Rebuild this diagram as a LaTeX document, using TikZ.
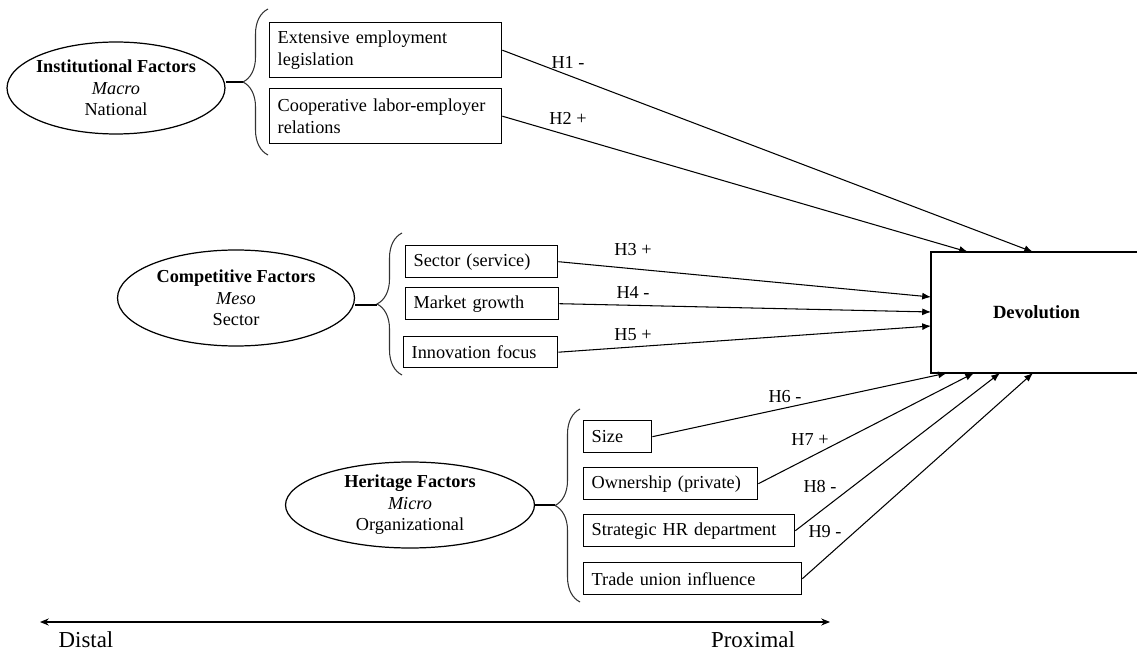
\documentclass[tikz,border=0pt]{standalone}
\usepackage{fontspec}
\setmainfont{Liberation Serif}
\usetikzlibrary{shapes.geometric, decorations.pathreplacing, arrows.meta}

\begin{document}
\begin{tikzpicture}[x=0.02cm, y=-0.02cm,
	every node/.style={font=\fontsize{10.4}{12.2}\selectfont},
	factor/.style={draw, line width=0.8pt, anchor=north west, align=left, inner xsep=0.16cm, inner ysep=0pt},
	level/.style={ellipse, draw, line width=0.7pt, align=center, inner xsep=-0.15cm, inner ysep=-0.1cm},
	grp/.style={decorate, decoration={brace, amplitude=0.5cm}, line width=0.6pt, draw=black!80},
	hyp/.style={draw, line width=0.6pt, -{Latex[length=5pt, width=4pt]}},
	lbl/.style={inner sep=0pt}]
				\useasboundingbox (0,0) rectangle (1137,655);
				
				% levels
				\node[level, minimum width=4.36cm, minimum height=1.84cm] (inst) at (116,88){\textbf{Institutional Factors}\\\textit{Macro}\\National};
				\node[level, minimum width=4.74cm, minimum height=1.92cm] (comp) at (236,298){\textbf{Competitive Factors}\\\textit{Meso}\\Sector};
				\node[level, minimum width=4.98cm, minimum height=1.72cm] (herit) at (410,505){\textbf{Heritage Factors}\\\textit{Micro}\\Organizational};
				
				% braces
				\draw[grp] (268,155) -- (268,9);
				\draw[grp] (402,375) -- (402,233);
				\draw[grp] (580,602) -- (580,409);
				\coordinate (tip1) at (243,82);
				\coordinate (tip2) at (377,305);
				\coordinate (tip3) at (555,505);
				\path (tip1 -| inst.east) edge[draw, line width=0.6pt] (tip1);
				\path (tip2 -| comp.east) edge[draw, line width=0.6pt] (tip2);
				\path (tip3 -| herit.east) edge[draw, line width=0.6pt] (tip3);
				
				% factors
				\node[factor, text width=4.32cm, minimum height=1.1cm] (ext) at (269,22){Extensive employment\\legislation};
				\node[factor, text width=4.32cm, minimum height=1.1cm] (coop) at (269,88){\mbox{Cooperative labor-employer}\\relations};
				\node[factor, text width=2.72cm, minimum height=0.64cm] (sect) at (405,245){Sector (service)};
				\node[factor, text width=2.74cm, minimum height=0.64cm] (mkt) at (405,287){Market growth};
				\node[factor, text width=2.76cm, minimum height=0.62cm] (innov) at (403,336){Innovation focus};
				\node[factor, text width=1.04cm, minimum height=0.64cm] (size) at (583,420){Size};
				\node[factor, text width=3.16cm, minimum height=0.64cm] (own) at (583,467){Ownership (private)};
				\node[factor, text width=3.9cm, minimum height=0.64cm] (strat) at (583,514){\mbox{Strategic HR department}};
				\node[factor, text width=4.04cm, minimum height=0.64cm] (trade) at (583,562){Trade union influence};
				
				\node[draw, line width=0.8pt, inner sep=0pt, minimum width=4.22cm, minimum height=2.42cm, font=\fontsize{10.6}{12.2}\selectfont\bfseries] (dev) at (1036.5,312.5){Devolution};
				
				\coordinate (in1) at (1033,252);
				\coordinate (in2) at (968,252);
				\coordinate (in3) at (931,297);
				\coordinate (in4) at (931,312);
				\coordinate (in5) at (931,326);
				\coordinate (in6) at (947,373);
				\coordinate (in7) at (974,373);
				\coordinate (in8) at (1000,373);
				\coordinate (in9) at (1033,373);
				
				\path (ext.east) edge[hyp] (in1);
				\path (coop.east) edge[hyp] (in2);
				\path (sect.east) edge[hyp] (in3);
				\path (mkt.east) edge[hyp] (in4);
				\path (innov.east) edge[hyp] (in5);
				\path (size.east) edge[hyp] (in6);
				\path (own.east) edge[hyp] (in7);
				\path (strat.east) edge[hyp] (in8);
				\path (trade.east) edge[hyp] (in9);
				
				% hypotheses
				\node[lbl] (h1) at (568,62){H1 -};
				\node[lbl] (h2) at (568,118){H2 +};
				\node[lbl] (h3) at (633,250){H3 +};
				\node[lbl] (h4) at (633,292){H4 -};
				\node[lbl] (h5) at (633,335){H5 +};
				\node[lbl] (h6) at (785,397){H6 -};
				\node[lbl] (h7) at (810,440){H7 +};
				\node[lbl] (h8) at (820,487){H8 -};
				\node[lbl] (h9) at (825,532){H9 -};
				
				% axis
				\coordinate (dist) at (40,622);
				\coordinate (prox) at (830,622);
				\path (dist) edge[draw, line width=0.6pt, {Stealth[length=5pt, width=4pt]}-{Stealth[length=5pt, width=4pt]}] (prox);
				\node[font=\fontsize{13}{15}\selectfont] (distal) at (86,640){Distal};
				\node[font=\fontsize{13}{15}\selectfont] (proximal) at (753,640){Proximal};
\end{tikzpicture}
\end{document}
